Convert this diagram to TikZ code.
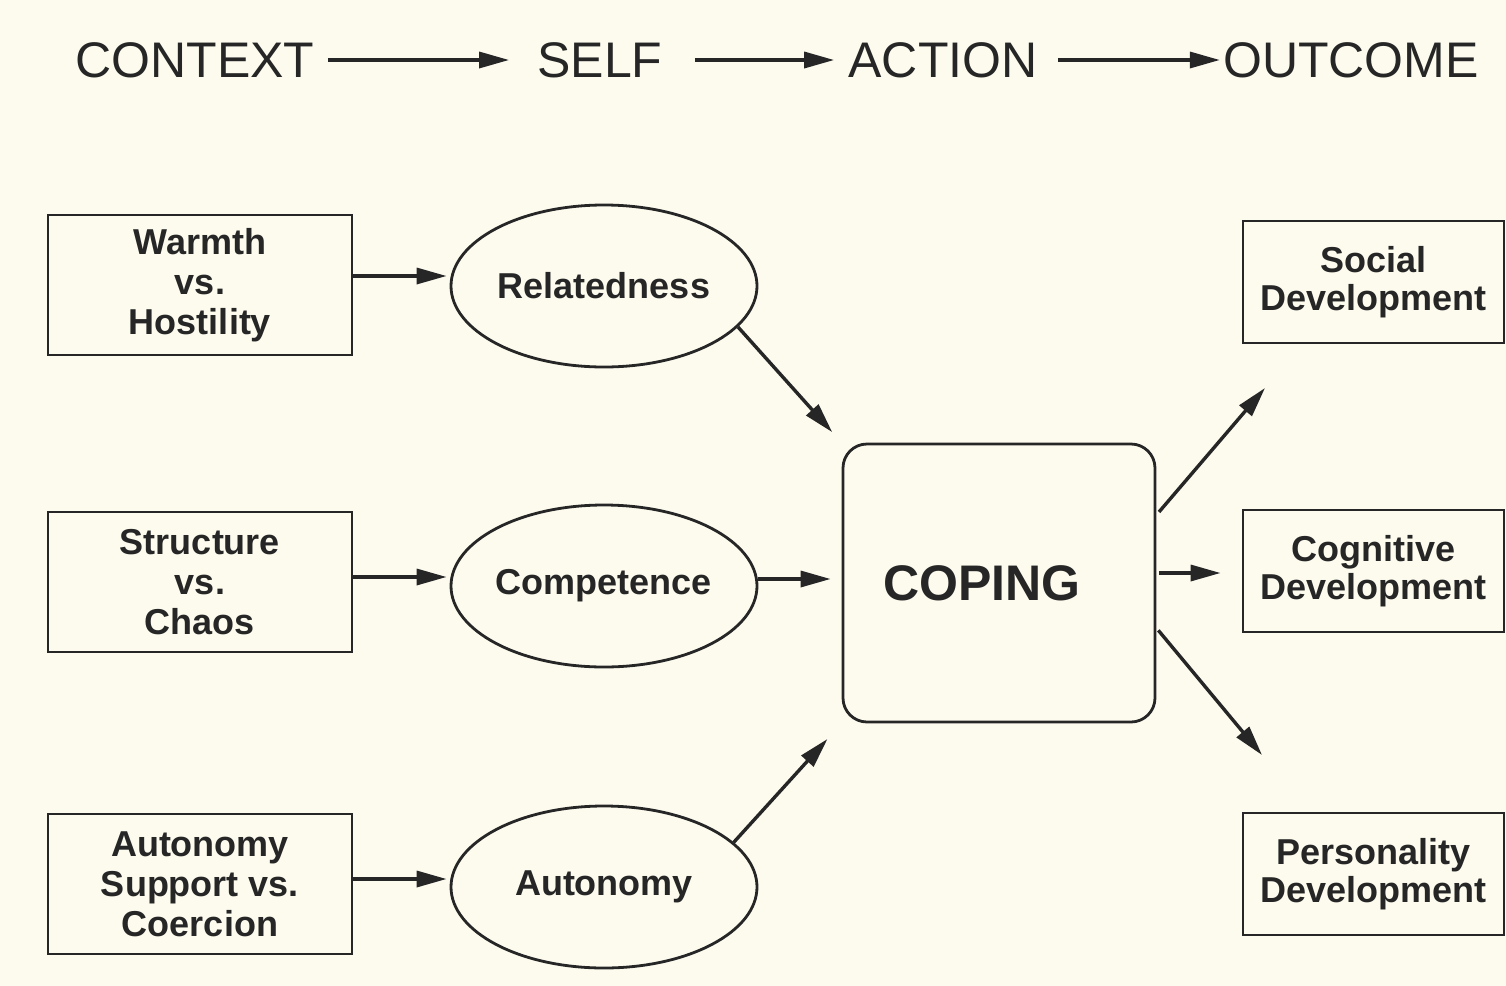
\documentclass[tikz,border=0pt]{standalone}
\usepackage{fontspec}
\setmainfont{Liberation Sans}
\usetikzlibrary{arrows.meta,shapes.geometric}
\definecolor{bg}{RGB}{253,251,238}
\definecolor{ink}{RGB}{38,38,38}
\begin{document}
\begin{tikzpicture}[x=0.5pt,y=-0.5pt,
  hdr/.style={font=\fontsize{25}{30}\selectfont, text=ink, inner sep=0pt},
  bx/.style={draw=ink, line width=1.4pt, minimum width=152pt, minimum height=70pt, align=center,
    font=\fontsize{18}{20}\selectfont\bfseries, text=ink, inner sep=0pt},
  rbx/.style={bx, minimum width=130.5pt, minimum height=61pt, font=\fontsize{18}{19}\selectfont\bfseries},
  ell/.style={ellipse, draw=ink, line width=1.4pt, minimum width=153pt, minimum height=81pt, inner sep=0pt,
    font=\fontsize{18}{20}\selectfont\bfseries, text=ink},
  cop/.style={draw=ink, line width=1.4pt, rounded corners=12pt, minimum width=156pt, minimum height=139pt,
    font=\fontsize{25}{30}\selectfont\bfseries, text=ink},
  arr/.style={-{Triangle[length=15pt,width=8pt]}, line width=1.7pt, draw=ink}]
\fill[bg] (0,0) rectangle (1506,986);
\useasboundingbox (0,0) rectangle (1506,986);

% header
\node[hdr] (ctx) at (195,60) {CONTEXT};
\node[hdr] (slf) at (600,60) {SELF};
\node[hdr] (act) at (943,60) {ACTION};
\node[hdr] (out) at (1351,60) {OUTCOME};
\draw[arr, shorten <=6.5pt, shorten >=14pt] (ctx.east) -- (slf.west);
\draw[arr, shorten <=16pt, shorten >=7pt] (slf.east) -- (act.west);
\draw[arr, shorten <=10pt, shorten >=1.5pt] (act.east) -- (out.west);

% context boxes
\node[bx] (b1) at (200,285) {Warmth\\vs.\\Hostility};
\node[bx] (b2) at (200,582) {Structure\\vs.\\Chaos};
\node[bx] (b3) at (200,884) {Autonomy\\Support vs.\\Coercion};

% self ellipses
\node[ell] (rel) at (604,286) {Relatedness};
\node[ell] (com) at (604,586) {Competence};
\node[ell] (aut) at (604,887) {Autonomy};

% coping
\node[cop] (cp) at (999,583) {COPING\hspace*{17pt}};

% outcomes
\node[rbx] (soc) at (1373.5,282) {Social\\Development};
\node[rbx] (cog) at (1373.5,571) {Cognitive\\Development};
\node[rbx] (per) at (1373.5,874) {Personality\\Development};

\coordinate (socend) at (1265,388);
\coordinate (perend) at (1262,755);

% arrows
\draw[arr, shorten >=1.5pt] ([yshift=4.5pt]b1.east) -- ([yshift=4.5pt]b1.east -| rel.west);
\draw[arr, shorten >=1.5pt] ([yshift=2.5pt]b2.east) -- ([yshift=2.5pt]b2.east -| com.west);
\draw[arr, shorten >=1.5pt] ([yshift=2.5pt]b3.east) -- ([yshift=2.5pt]b3.east -| aut.west);

\draw[arr, shorten >=7pt] (rel.-17) -- (cp.north west);
\draw[arr, shorten >=5.5pt] ([yshift=2pt]cp.west -| com.east) -- ([yshift=2pt]cp.west);
\draw[arr, shorten >=10.5pt] (aut.19) -- (cp.south west);

\draw[arr, shorten <=2pt] ([yshift=34pt]cp.east) -- (socend);
\draw[arr, shorten <=1.5pt, shorten >=10.5pt] ([yshift=5pt]cp.east) -- ([yshift=5pt]cp.east -| cog.west);
\draw[arr, shorten <=1.5pt] ([yshift=-22.5pt]cp.east) -- (perend);
\end{tikzpicture}
\end{document}
